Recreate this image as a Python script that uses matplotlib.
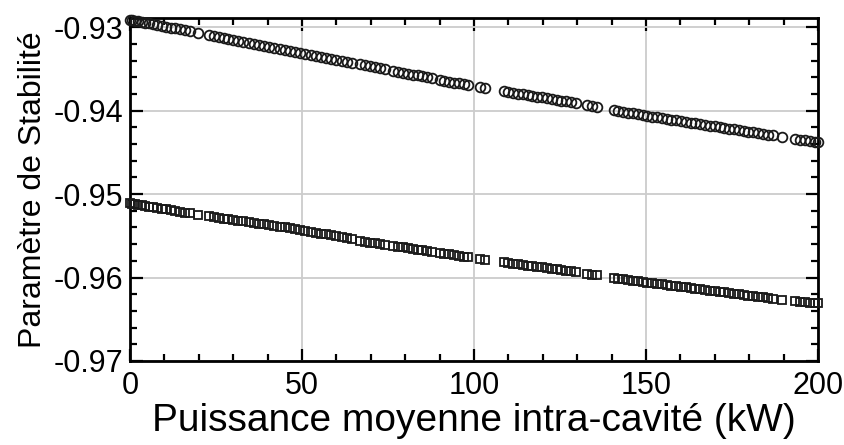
import matplotlib.pyplot as plt
from matplotlib.ticker import MultipleLocator

# data
power_kw = [0, 0.7, 1.5, 2.4, 3.4, 4.5, 5.6, 6.8, 8.0, 9.3, 10.6, 11.9, 13.2, 14.6, 16.0, 17.4,
            19.8,
            23.0, 24.4, 25.8, 27.2, 28.6, 30.0, 31.5, 33.0, 34.5, 36.0, 37.5, 39.0, 40.5, 42.0,
            43.5, 45.0, 46.5, 48.0, 49.5, 51.0, 52.5, 54.0, 55.5, 57.0, 58.5, 60.0, 61.5, 63.0, 64.5,
            67.0, 68.4, 69.8, 71.2, 72.6, 74.0,
            76.6, 78.0, 79.4, 80.8, 82.2, 83.6, 85.0, 86.4, 87.8, 90.0, 91.4, 92.8, 94.2, 95.6, 97.0, 98.4,
            101.8, 103.2,
            108.6, 110.0, 111.4, 112.8, 114.2, 115.6, 117.0, 118.4, 119.8, 121.2, 122.6, 124.0,
            125.4, 126.8, 128.2, 129.6,
            133.0, 134.4, 135.8,
            140.6, 142.0, 143.4, 144.8, 146.2, 147.6, 149.0, 150.4, 151.8, 153.2, 154.6, 156.0,
            157.4, 158.8, 160.2, 161.6, 163.0, 164.4, 165.8, 167.2, 168.6, 170.0, 171.4, 172.8,
            174.2, 175.6, 177.0, 178.4, 179.8, 181.2, 182.6, 184.0, 185.4, 186.8,
            189.6,
            193.4, 194.8, 196.2, 197.6, 199.0, 200.0]

stab_top = [-0.92910, -0.92916, -0.92922, -0.92929, -0.92937, -0.92946, -0.92955, -0.92964,
            -0.92974, -0.92984, -0.92995, -0.93005, -0.93016, -0.93027, -0.93038, -0.93049,
            -0.93068,
            -0.93094, -0.93105, -0.93116, -0.93128, -0.93139, -0.93150, -0.93162, -0.93174,
            -0.93186, -0.93198, -0.93210, -0.93222, -0.93234, -0.93246, -0.93258, -0.93270,
            -0.93282, -0.93294, -0.93306, -0.93318, -0.93330, -0.93342, -0.93354, -0.93366,
            -0.93378, -0.93390, -0.93402, -0.93414, -0.93426,
            -0.93446, -0.93457, -0.93468, -0.93480, -0.93491, -0.93502,
            -0.93523, -0.93534, -0.93545, -0.93556, -0.93568, -0.93579, -0.93590, -0.93601,
            -0.93612, -0.93630, -0.93641, -0.93652, -0.93664, -0.93675, -0.93686, -0.93697,
            -0.93722, -0.93731,
            -0.93767, -0.93777, -0.93786, -0.93795, -0.93805, -0.93814, -0.93823, -0.93833,
            -0.93842, -0.93851, -0.93861, -0.93870, -0.93879, -0.93889, -0.93898, -0.93907,
            -0.93934, -0.93945, -0.93956,
            -0.93994, -0.94004, -0.94014, -0.94024, -0.94033, -0.94043, -0.94053, -0.94063,
            -0.94072, -0.94080, -0.94089, -0.94098, -0.94107, -0.94116, -0.94125, -0.94134,
            -0.94143, -0.94152, -0.94161, -0.94170, -0.94179, -0.94188, -0.94197, -0.94206,
            -0.94215, -0.94224, -0.94233, -0.94242, -0.94251, -0.94260, -0.94269, -0.94278,
            -0.94287, -0.94296,
            -0.94314,
            -0.94338, -0.94347, -0.94356, -0.94365, -0.94374, -0.94380]

stab_bot = [-0.95110, -0.95115, -0.95121, -0.95127, -0.95134, -0.95142, -0.95149, -0.95158,
            -0.95166, -0.95175, -0.95184, -0.95193, -0.95202, -0.95212, -0.95222, -0.95232,
            -0.95249,
            -0.95268, -0.95276, -0.95285, -0.95293, -0.95302, -0.95310, -0.95319, -0.95328,
            -0.95337, -0.95346, -0.95355, -0.95364, -0.95373, -0.95382, -0.95391, -0.95400,
            -0.95409, -0.95418, -0.95427, -0.95438, -0.95449, -0.95461, -0.95473, -0.95484,
            -0.95496, -0.95508, -0.95519, -0.95531, -0.95543,
            -0.95562, -0.95572, -0.95581, -0.95590, -0.95598, -0.95607,
            -0.95623, -0.95632, -0.95640, -0.95649, -0.95658, -0.95666, -0.95675, -0.95684,
            -0.95692, -0.95706, -0.95714, -0.95723, -0.95732, -0.95741, -0.95749, -0.95758,
            -0.95779, -0.95787,
            -0.95817, -0.95824, -0.95832, -0.95840, -0.95848, -0.95856, -0.95863, -0.95871,
            -0.95879, -0.95887, -0.95894, -0.95902, -0.95910, -0.95918, -0.95926, -0.95934,
            -0.95957, -0.95966, -0.95975,
            -0.96007, -0.96015, -0.96023, -0.96030, -0.96038, -0.96045, -0.96052, -0.96060,
            -0.96067, -0.96075, -0.96082, -0.96090, -0.96097, -0.96104, -0.96112, -0.96119,
            -0.96127, -0.96134, -0.96141, -0.96149, -0.96156, -0.96164, -0.96171, -0.96179,
            -0.96186, -0.96193, -0.96201, -0.96208, -0.96216, -0.96223, -0.96230, -0.96238,
            -0.96245, -0.96253,
            -0.96268,
            -0.96284, -0.96289, -0.96295, -0.96300, -0.96306, -0.96310]

x_ticks = [0, 50, 100, 150, 200]
y_ticks = [-0.97, -0.96, -0.95, -0.94, -0.93]

plt.rcParams['font.family'] = ['Liberation Sans', 'DejaVu Sans']

fig = plt.figure(figsize=(8.45, 4.45), dpi=100)
ax = fig.add_axes([0.1538, 0.1888, 0.8142, 0.7708])

ax.plot(power_kw, stab_top, linestyle='none', marker='o', markersize=7,
        markerfacecolor='none', markeredgecolor='#1a1a1a', markeredgewidth=1.3,
        clip_on=False, zorder=3)
ax.plot(power_kw, stab_bot, linestyle='none', marker='s', markersize=5.8,
        markerfacecolor='none', markeredgecolor='#1a1a1a', markeredgewidth=1.3,
        clip_on=False, zorder=3)

ax.set_xlim(0, 200)
ax.set_ylim(-0.97, -0.9289)
ax.set_xticks(x_ticks)
ax.set_yticks(y_ticks)
ax.set_xticklabels([str(v) for v in x_ticks])
ax.set_yticklabels(['%.2f' % v for v in y_ticks])
ax.xaxis.set_minor_locator(MultipleLocator(10))
ax.yaxis.set_minor_locator(MultipleLocator(0.002))

ax.grid(True, which='major', color='#cccccc', linewidth=1.3, zorder=0)
ax.set_axisbelow(True)
ax.tick_params(which='both', direction='in', top=True, right=True, labelsize=22, width=1.6)
ax.tick_params(which='major', length=9, pad=5)
ax.tick_params(axis='x', which='major', pad=7)
ax.tick_params(which='minor', length=5)
for sp in ax.spines.values():
    sp.set_linewidth(2)

ax.set_xlabel('Puissance moyenne intra-cavité (kW)', fontsize=28, labelpad=2)
ax.set_ylabel('Paramètre de Stabilité', fontsize=23, labelpad=4)

fig.savefig('out.png', dpi=100)
